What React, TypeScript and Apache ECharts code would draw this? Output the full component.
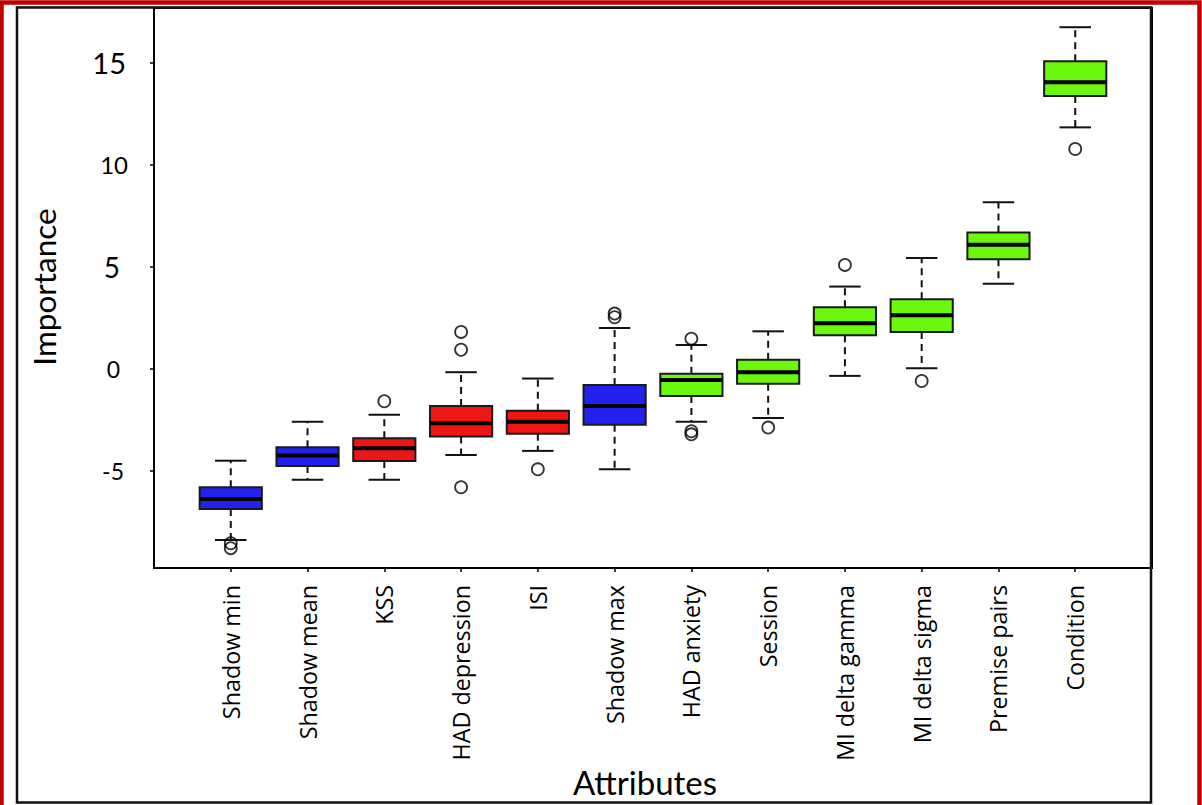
import React, { useEffect, useRef } from "react";
import * as echarts from "echarts";

const categories = [
  "Shadow min", "Shadow mean", "KSS", "HAD depression", "ISI", "Shadow max",
  "HAD anxiety", "Session", "MI delta gamma", "MI delta sigma", "Premise pairs", "Condition",
];
// 0 = shadow (blue), 1 = rejected (red), 2 = confirmed (green)
const groupOf = [0, 0, 1, 1, 1, 0, 2, 2, 2, 2, 2, 2];
const whiskerLow = [-8.37, -5.42, -5.42, -4.21, -4.01, -4.91, -2.59, -2.4, -0.34, 0.03, 4.17, 11.82];
const q1 = [-6.85, -4.75, -4.5, -3.31, -3.17, -2.73, -1.32, -0.73, 1.65, 1.81, 5.37, 13.36];
const median = [-6.37, -4.24, -3.88, -2.66, -2.58, -1.81, -0.54, -0.16, 2.24, 2.63, 6.08, 14.03];
const q3 = [-5.79, -3.83, -3.39, -1.81, -2.04, -0.78, -0.24, 0.45, 3.02, 3.41, 6.68, 15.05];
const whiskerHigh = [-4.49, -2.59, -2.24, -0.16, -0.47, 2.0, 1.17, 1.84, 4.03, 5.43, 8.16, 16.72];
// [category index, value]
const outliers = [
  [0, -8.53], [0, -8.77], [2, -1.58], [3, 1.81], [3, 0.94], [3, -5.79], [4, -4.91],
  [5, 2.71], [5, 2.53], [6, 1.48], [6, -3.05], [6, -3.2], [7, -2.87], [8, 5.09],
  [9, -0.59], [11, 10.76],
];
const yTickLabels = [-5, 0, 5, 10, 15];

const groupColors = ["#2222ee", "#ee1515", "#6cf80c"];
const labelStyleKey: Record<string, string> = { "-5": "m5", "0": "z", "5": "f", "10": "t", "15": "ft" };

export default function App() {
  const ref = useRef<HTMLDivElement>(null);
  useEffect(() => {
    if (!ref.current) return;
    const chart = echarts.init(ref.current, null, { renderer: "svg" });
    const boxData = categories.map((_, i) => [
      i + 1, whiskerLow[i], q1[i], median[i], q3[i], whiskerHigh[i], groupOf[i],
    ]);
    const renderItem = (params: any, api: any) => {
      const k = api.value(0);
      const pLo = api.coord([k, api.value(1)]);
      const pQ1 = api.coord([k, api.value(2)]);
      const pMed = api.coord([k, api.value(3)]);
      const pQ3 = api.coord([k, api.value(4)]);
      const pHi = api.coord([k, api.value(5)]);
      const color = groupColors[api.value(6)];
      const band = api.size([1, 0])[0];
      const bw = band * 0.81;
      const cw = band * 0.41;
      const x = pMed[0];
      const dash = { stroke: "#111", lineWidth: 2, lineDash: [7, 5] };
      const solid = { stroke: "#111", lineWidth: 2 };
      return {
        type: "group",
        children: [
          { type: "line", shape: { x1: x, y1: pQ3[1], x2: x, y2: pHi[1] }, style: dash },
          { type: "line", shape: { x1: x, y1: pQ1[1], x2: x, y2: pLo[1] }, style: dash },
          { type: "line", shape: { x1: x - cw / 2, y1: pHi[1], x2: x + cw / 2, y2: pHi[1] }, style: solid },
          { type: "line", shape: { x1: x - cw / 2, y1: pLo[1], x2: x + cw / 2, y2: pLo[1] }, style: solid },
          {
            type: "rect",
            shape: { x: x - bw / 2, y: pQ3[1], width: bw, height: pQ1[1] - pQ3[1] },
            style: { fill: color, stroke: "#1a1a1a", lineWidth: 2 },
          },
          {
            type: "line",
            shape: { x1: x - bw / 2, y1: pMed[1], x2: x + bw / 2, y2: pMed[1] },
            style: { stroke: "#000", lineWidth: 4 },
          },
        ],
      };
    };
    const font = "Lato";
    const catFont = "Open Sans";
    chart.setOption({
      animation: false,
      backgroundColor: "#fff",
      grid: {
        left: 154, top: 8, right: 50, bottom: 237,
        show: true, borderColor: "#000", borderWidth: 2, backgroundColor: "transparent",
      },
      xAxis: {
        type: "value", min: 0, max: 13, interval: 1,
        axisLine: { show: false, onZero: false },
        splitLine: { show: false },
        axisTick: {
          show: true, length: 4, lineStyle: { color: "#000", width: 1.5 },
          customValues: categories.map((_, i) => i + 1),
        },
        axisLabel: {
          rotate: 90, margin: 17, color: "#000", fontFamily: catFont, fontSize: 23.3,
          customValues: categories.map((_, i) => i + 1),
          formatter: (v: number) => categories[v - 1] ?? "",
        },
      },
      yAxis: {
        type: "value", min: -9.74, max: 17.66,
        axisLine: { show: false, onZero: false },
        splitLine: { show: false },
        axisTick: {
          show: true, length: 4, lineStyle: { color: "#000", width: 1.5 },
          customValues: yTickLabels,
        },
        axisLabel: {
          customValues: yTickLabels, margin: 26, color: "#000", fontFamily: font,
          formatter: (v: number) => `{${labelStyleKey[String(v)] ?? "z"}|${v}}`,
          rich: {
            ft: { fontSize: 29, fontFamily: font, color: "#000", padding: [0, 2, 0, 0] },
            t: { fontSize: 24, fontFamily: font, color: "#000", padding: [0, 0, 0, 0] },
            f: { fontSize: 28, fontFamily: font, color: "#000", padding: [0, 8, 0, 0] },
            z: { fontSize: 23, fontFamily: font, color: "#000", padding: [0, 8, 0, 0] },
            m5: { fontSize: 23, fontFamily: font, color: "#000", padding: [0, 4, 0, 0] },
          },
        },
      },
      graphic: [
        {
          type: "rect", silent: true, z: 100,
          shape: { x: 1.5, y: 2.5, width: 1198, height: 900 },
          style: { fill: "none", stroke: "#c00000", lineWidth: 4.5 },
        },
        {
          type: "rect", silent: true, z: 100,
          shape: { x: 17, y: 7.5, width: 1134, height: 795 },
          style: { fill: "none", stroke: "#111", lineWidth: 2.5 },
        },
        {
          type: "text", x: 44, y: 287, rotation: Math.PI / 2,
          style: {
            text: "Importance", fontFamily: font, fontSize: 31.5, fill: "#000",
            textAlign: "center", textVerticalAlign: "middle",
          },
        },
        {
          type: "text", x: 645, y: 782,
          style: {
            text: "Attributes", fontFamily: font, fontSize: 33, fill: "#000",
            textAlign: "center", textVerticalAlign: "middle",
          },
        },
      ],
      series: [
        {
          type: "custom",
          renderItem,
          data: boxData,
          encode: { x: 0, y: [1, 2, 3, 4, 5] },
        },
        {
          type: "scatter",
          symbol: "circle",
          symbolSize: 12,
          itemStyle: { color: "rgba(255,255,255,0)", borderColor: "#000", borderWidth: 1.8 },
          data: outliers.map(([i, v]) => [i + 1, v]),
        },
      ],
    });
    return () => chart.dispose();
  }, []);
  return (
    <div
      ref={ref}
      style={{ position: "fixed", left: 0, top: 0, width: 1202, height: 805, background: "#fff" }}
    />
  );
}
